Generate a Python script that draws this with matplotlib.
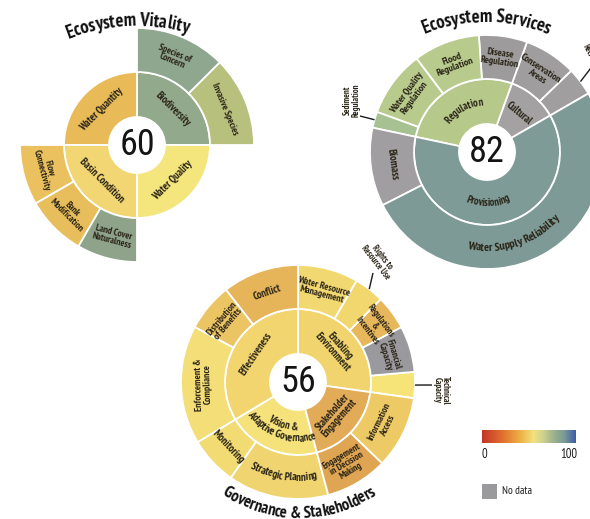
import numpy as np
import matplotlib
matplotlib.use("Agg")
import matplotlib.pyplot as plt
from matplotlib.patches import Wedge, Rectangle
from matplotlib.colors import LinearSegmentedColormap
from matplotlib.font_manager import FontProperties
from matplotlib.textpath import TextToPath

# ---------------------------------------------------------------- fonts
FAMILY = ["PT Sans Narrow", "DejaVu Sans"]
NUM_FAMILY = ["Roboto Condensed", "PT Sans Narrow", "DejaVu Sans"]
plt.rcParams["font.family"] = FAMILY
INK = "#2a2417"

# ---------------------------------------------------------------- data
# Ecosystem Vitality
EV_SCORE = 60
EV_INNER_LABELS = ["Biodiversity", "Water Quantity", "Basin Condition", "Water Quality"]
EV_INNER_SPANS = [(0, 90), (90, 180), (180, 270), (270, 360)]
EV_INNER_COLORS = ["#93a98c", "#e9bb58", "#f2d673", "#f4e57d"]
EV_OUTER_LABELS = ["Invasive Species", "Species of\nConcern", "Flow\nConnectivity",
                   "Bank\nModification", "Land Cover\nNaturalness"]
EV_OUTER_SPANS = [(0, 45), (45, 90), (180, 210), (210, 240), (240, 270)]
EV_OUTER_COLORS = ["#b8c07e", "#8fa78f", "#ebc15f", "#e8be5c", "#8ea38a"]

# Ecosystem Services
ES_SCORE = 82
ES_INNER_LABELS = ["Cultural", "Regulation", "Provisioning"]
ES_INNER_SPANS = [(30, 70), (70, 168), (168, 390)]
ES_INNER_COLORS = ["#a3a1a2", "#b6c98b", "#7e9b97"]
ES_OUTER_LABELS = ["Recreation", "Conservation\nAreas", "Disease\nRegulation", "Flood\nRegulation",
                   "Water Quality\nRegulation", "Sediment\nRegulation", "Biomass",
                   "Water Supply Reliability"]
ES_OUTER_SPANS = [(30, 44), (44, 70), (70, 94), (94, 127), (127, 160), (160, 168),
                  (168, 207), (207, 390)]
ES_OUTER_COLORS = ["#a09e9f", "#9f9d9e", "#9d9b9c", "#b8cb8d", "#b8cb8d", "#a8c193",
                   "#a09ea0", "#7d9a96"]

# Governance & Stakeholders
GS_SCORE = 56
GS_INNER_LABELS = ["Enabling\nEnvironment", "Effectiveness", "Vision &\nAdaptive Governance",
                   "Stakeholder\nEngagement"]
GS_INNER_SPANS = [(-8, 90), (90, 211), (211, 285), (285, 352)]
GS_INNER_COLORS = ["#f1d46d", "#f2d56f", "#f5e27a", "#e2ab58"]
GS_OUTER_LABELS = ["Technical\nCapacity", "Financial\nCapacity", "Regulations\n&\nIncentives",
                   "Rights to\nResource Use", "Water Resource\nManagement", "Conflict",
                   "Distribution\nof Benefits", "Enforcement &\nCompliance", "Monitoring",
                   "Strategic Planning", "Engagement\nin Decision\nMaking", "Information\nAccess"]
GS_OUTER_SPANS = [(-8, 5), (5, 28), (28, 45), (45, 60), (60, 90), (90, 128), (128, 152),
                  (152, 211), (211, 235), (235, 285), (285, 316), (316, 352)]
GS_OUTER_COLORS = ["#f6e478", "#9a999d", "#e6b75b", "#f2d66e", "#f2d870", "#e6b55a",
                   "#ebc464", "#f3de77", "#f3db73", "#f0d46f", "#dfa552", "#edca65"]

# colour scale of the legend
SCALE_STOPS = [0.0, 0.22, 0.42, 0.55, 0.66, 0.78, 0.88, 1.0]
SCALE_COLORS = ["#c53528", "#e0712e", "#eeb548", "#f3e27f", "#c9cf8f", "#97ad8c",
                "#799a97", "#3d5ca8"]
SCALE_TICKS = ["0", "100"]
NO_DATA_COLOR = "#9a999b"

# ---------------------------------------------------------------- canvas
W, H = 590, 519
fig = plt.figure(figsize=(W / 100, H / 100), dpi=100)
ax = fig.add_axes([0, 0, 1, 1])
ax.set_xlim(0, W)
ax.set_ylim(0, H)
ax.axis("off")

R_HOLE, R_MID, R_OUT = 28, 73, 117
PX = 100 / 72
_t2p = TextToPath()


def polar(c, r, ang):
    a = np.deg2rad(ang)
    return c[0] + r * np.cos(a), c[1] + r * np.sin(a)


def ring(c, r0, r1, spans, colors):
    for (a0, a1), col in zip(spans, colors):
        ax.add_patch(Wedge(c, r1, a0, a1, width=r1 - r0, facecolor=col,
                           edgecolor="white", linewidth=1.3))


def advance(s, fp):
    if not s:
        return 0.0
    w = _t2p.get_text_width_height_descent(s + "l", fp, False)[0]
    w0 = _t2p.get_text_width_height_descent("l", fp, False)[0]
    return (w - w0) * PX


def arc_line(c, r, ang, text, fp, top, color):
    cum = [advance(text[:i], fp) for i in range(len(text) + 1)]
    total = cum[-1]
    for i, ch in enumerate(text):
        if ch.isspace():
            continue
        s = 0.5 * (cum[i] + cum[i + 1]) - total / 2
        d = np.rad2deg(s / r)
        th = ang - d if top else ang + d
        x, y = polar(c, r, th)
        ax.text(x, y, ch, fontproperties=fp, color=color,
                rotation=(th - 90) if top else (th + 90), rotation_mode="anchor",
                ha="center", va="baseline")


def arc_label(c, r, ang, text, size, top, color=INK, weight="bold", lh=1.05):
    fp = FontProperties(family=FAMILY, weight=weight, size=size)
    spx = size * PX
    lines = text.split("\n")
    n = len(lines)
    for k, line in enumerate(lines):
        off = ((n - 1) / 2 - k) * lh * spx
        rb = (r + off - 0.33 * spx) if top else (r - off + 0.33 * spx)
        arc_line(c, rb, ang, line, fp, top, color)


def tan_label(c, r, ang, text, size, color=INK):
    x, y = polar(c, r, ang)
    top = (ang % 360) <= 183
    rot = ang - 90 if top else ang + 90
    ax.text(x, y, text, rotation=rot, rotation_mode="anchor", ha="center", va="center",
            multialignment="center", fontsize=size, fontweight="bold", color=color,
            linespacing=0.92)


def mid(span):
    return 0.5 * (span[0] + span[1])


def segment_labels(c, r, labels, spans, modes, size, angle_override, size_override=None):
    size_override = size_override or {}
    for lab, sp, mode in zip(labels, spans, modes):
        ang = angle_override.get(lab, mid(sp))
        fs = size_override.get(lab, size)
        if mode == "tan":
            tan_label(c, r, ang, lab, fs)
        elif mode == "top":
            arc_label(c, r, ang, lab, fs, True)
        elif mode == "bottom":
            arc_label(c, r, ang, lab, fs, False)


def score(c, value):
    ax.text(c[0], c[1], str(value), ha="center", va="center", fontsize=26,
            family=NUM_FAMILY, color="#141414")


def callout(p0, p1):
    ax.plot([p0[0], p1[0]], [p0[1], p1[1]], color="#1a1a1a", lw=1.0,
            solid_capstyle="butt")


def side_text(x, y, text, rot, size=6.2, ha="center"):
    ax.text(x, y, text, rotation=rot, rotation_mode="anchor", ha=ha, va="center",
            multialignment="center", fontsize=size, fontweight="bold", color=INK,
            linespacing=0.92)


TITLE_FP = FontProperties(family=FAMILY, weight="bold", size=13.5)
R_IN_TXT = 0.5 * (R_HOLE + R_MID)
R_OUT_TXT = 0.5 * (R_MID + R_OUT)

# ---------------------------------------------------------------- Ecosystem Vitality
EV_C = (137, 374)
ring(EV_C, R_HOLE, R_MID, EV_INNER_SPANS, EV_INNER_COLORS)
ring(EV_C, R_MID, R_OUT, EV_OUTER_SPANS, EV_OUTER_COLORS)
segment_labels(EV_C, R_IN_TXT, EV_INNER_LABELS, EV_INNER_SPANS, ["tan"] * 4, 7.6, {})
segment_labels(EV_C, R_OUT_TXT, EV_OUTER_LABELS, EV_OUTER_SPANS, ["tan"] * 5, 6.9, {})
score(EV_C, EV_SCORE)
arc_line((137, 303), 190, 93, "Ecosystem Vitality", TITLE_FP, True, "#111111")

# ---------------------------------------------------------------- Ecosystem Services
ES_C = (487, 367)
ring(ES_C, R_HOLE, R_MID, ES_INNER_SPANS, ES_INNER_COLORS)
ring(ES_C, R_MID, R_OUT, ES_OUTER_SPANS, ES_OUTER_COLORS)
segment_labels(ES_C, R_IN_TXT, ES_INNER_LABELS, ES_INNER_SPANS, ["tan", "top", "bottom"], 7.6,
               {"Regulation": 119, "Provisioning": 271})
segment_labels(ES_C, R_OUT_TXT, ES_OUTER_LABELS, ES_OUTER_SPANS,
               ["call", "tan", "tan", "tan", "tan", "call", "tan", "bottom"], 7.2,
               {"Water Supply Reliability": 288},
               {"Water Supply Reliability": 8.6, "Biomass": 7.8})
score(ES_C, ES_SCORE)
arc_line((486, 335), 162, 90, "Ecosystem Services", TITLE_FP, True, "#111111")
# callouts for the narrow segments
callout((360, 403), polar(ES_C, R_OUT, mid(ES_OUTER_SPANS[5])))
side_text(352, 419, ES_OUTER_LABELS[5], 90)
callout(polar(ES_C, R_OUT, mid(ES_OUTER_SPANS[0])), (594, 455))
side_text(585, 474, ES_OUTER_LABELS[0], -62, ha="left")

# ---------------------------------------------------------------- Governance & Stakeholders
GS_C = (298, 137)
ring(GS_C, R_HOLE, R_MID, GS_INNER_SPANS, GS_INNER_COLORS)
ring(GS_C, R_MID, R_OUT, GS_OUTER_SPANS, GS_OUTER_COLORS)
segment_labels(GS_C, R_IN_TXT, GS_INNER_LABELS, GS_INNER_SPANS,
               ["tan", "tan", "bottom", "tan"], 7.6,
               {"Effectiveness": 146, "Vision &\nAdaptive Governance": 250})
segment_labels(GS_C, R_OUT_TXT, GS_OUTER_LABELS, GS_OUTER_SPANS,
               ["call", "tan", "tan", "call", "tan", "tan", "tan", "tan", "tan", "bottom",
                "tan", "tan"], 7.0, {"Strategic Planning": 261},
               {"Strategic Planning": 7.8, "Monitoring": 7.6, "Conflict": 7.6,
                "Engagement\nin Decision\nMaking": 6.8, "Regulations\n&\nIncentives": 6.6})
score(GS_C, GS_SCORE)
arc_line((299, 139), 138, 270, "Governance & Stakeholders",
         FontProperties(family=FAMILY, weight="bold", size=12), False, "#111111")
callout(polar(GS_C, R_OUT, mid(GS_OUTER_SPANS[3])), (373, 246))
side_text(379, 259, GS_OUTER_LABELS[3], -52)
callout(polar(GS_C, R_OUT, mid(GS_OUTER_SPANS[0])), (432, 134))
side_text(441, 129, GS_OUTER_LABELS[0], -90)

# ---------------------------------------------------------------- legend
cmap = LinearSegmentedColormap.from_list("score", list(zip(SCALE_STOPS, SCALE_COLORS)))
grad = np.linspace(0, 1, 256)[None, :]
ax.imshow(grad, cmap=cmap, extent=(482, 576, 76, 89), aspect="auto", zorder=2)
ax.text(482, 64, SCALE_TICKS[0], ha="left", va="center", fontsize=9, color="#1a1a1a")
ax.text(577, 64, SCALE_TICKS[1], ha="right", va="center", fontsize=9, color="#1a1a1a")
ax.add_patch(Rectangle((482, 20), 15, 15, facecolor=NO_DATA_COLOR, edgecolor="none"))
ax.text(502, 27.5, "No data", ha="left", va="center", fontsize=8, color="#1a1a1a")
ax.set_xlim(0, W)
ax.set_ylim(0, H)

fig.savefig("out.png", dpi=100)
